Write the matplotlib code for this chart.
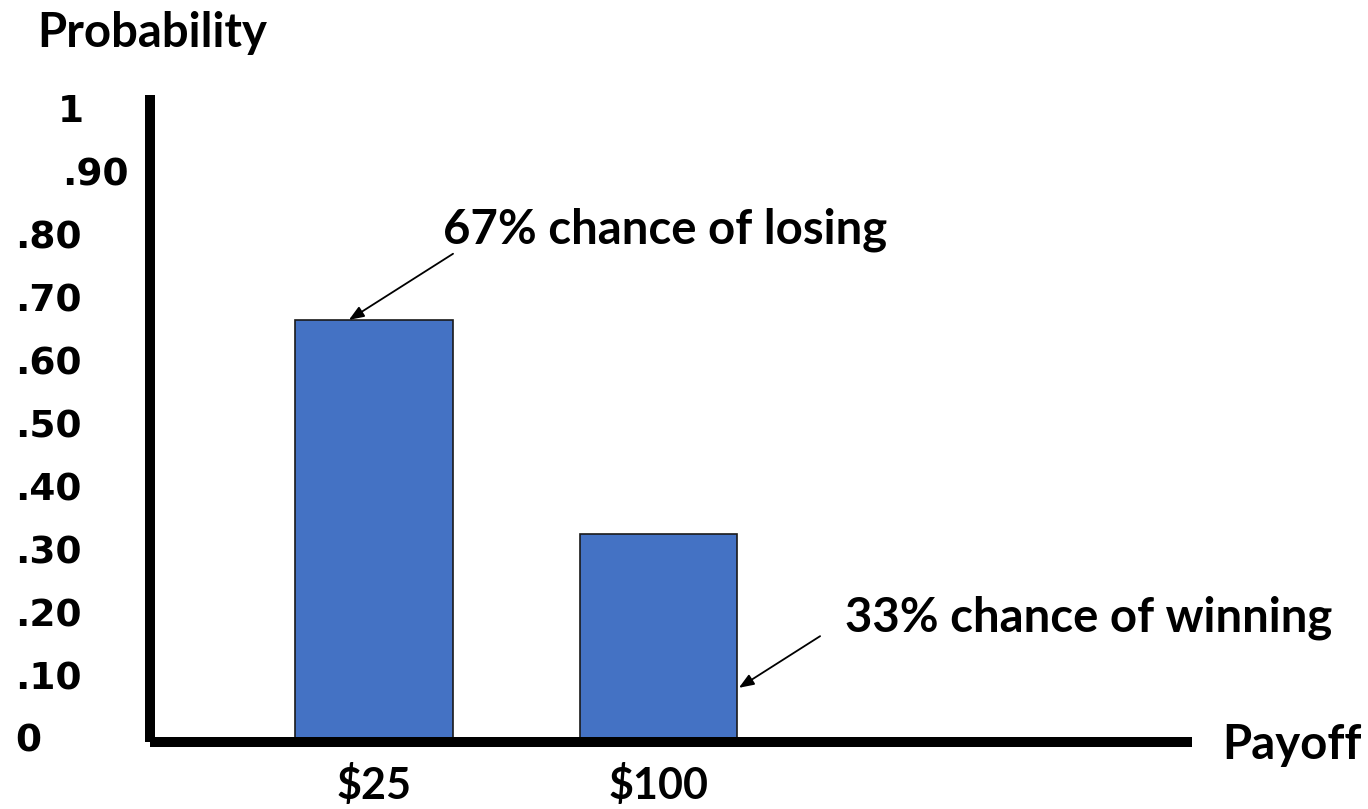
import matplotlib
matplotlib.use("Agg")
import matplotlib.pyplot as plt
from matplotlib.transforms import blended_transform_factory

# Data
payoffs = ["$25", "$100"]
probabilities = [0.67, 0.33]
tick_values = [0, 0.10, 0.20, 0.30, 0.40, 0.50, 0.60, 0.70, 0.80, 0.90, 1.0]
tick_labels = ["0", ".10", ".20", ".30", ".40", ".50", ".60", ".70", ".80", ".90", "1"]
annotations = ["67% chance of losing", "33% chance of winning"]

W, H, DPI = 1368, 809, 100
fig = plt.figure(figsize=(W / DPI, H / DPI), dpi=DPI)
ax = fig.add_axes([150 / W, 67 / H, 1042 / W, 647 / H])

TXT = dict(family="Lato", weight="bold", color="black")
BAR_W = 0.555
xpos = list(range(len(payoffs)))

ax.bar(xpos, probabilities, width=BAR_W, color="#4472C4",
       edgecolor="#1a1a1a", linewidth=1.2, zorder=2)

ax.set_xlim(-0.787, 2.875)
ax.set_ylim(0, 1.027)

for side in ("top", "right"):
    ax.spines[side].set_visible(False)
for side in ("left", "bottom"):
    ax.spines[side].set_linewidth(7.2)
    ax.spines[side].set_capstyle("butt")
    ax.spines[side].set_zorder(3)

ax.set_xticks(xpos)
ax.set_xticklabels(payoffs, fontsize=31, **TXT)
ax.tick_params(axis="x", length=0, pad=16)
ax.set_yticks([])

# Probability labels on the left, hand-placed column
ytr = blended_transform_factory(fig.transFigure, ax.transData)
for v, lab in zip(tick_values, tick_labels):
    if lab == "1":
        x0 = 58
    elif lab == ".90":
        x0 = 62
    else:
        x0 = 15
    ax.text(x0 / W, v, lab, transform=ytr, ha="left", va="center",
            family="DejaVu Sans", weight="bold", fontsize=27, color="black")

# Axis titles
fig.text(37 / W, 1 - 33 / H, "Probability", ha="left", va="center", fontsize=34, **TXT)
fig.text(1222 / W, 1 - 745 / H, "Payoff", ha="left", va="center", fontsize=34, **TXT)

# Annotations with arrows pointing at the bars
arrow = dict(arrowstyle="-|>,head_length=0.9,head_width=0.35", color="black", lw=1.3,
             shrinkA=0, shrinkB=0)
ax.annotate("", xy=(xpos[0] - 0.088, probabilities[0]), xytext=(0.278, 0.775),
            arrowprops=arrow, zorder=4)
ax.text(0.243, 0.813, annotations[0], ha="left", va="center", fontsize=34, **TXT)

ax.annotate("", xy=(xpos[1] + BAR_W / 2 + 0.005, 0.086), xytext=(1.568, 0.168),
            arrowprops=arrow, zorder=4)
ax.text(1.656, 0.197, annotations[1], ha="left", va="center", fontsize=34, **TXT)

fig.savefig("out.png", dpi=DPI)
